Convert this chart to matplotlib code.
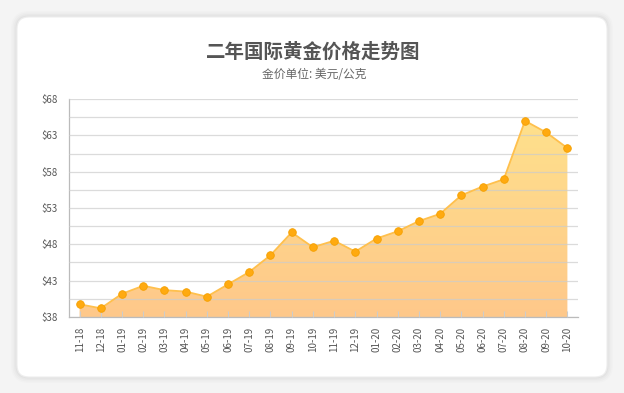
import matplotlib
matplotlib.use("Agg")
import matplotlib.pyplot as plt
import numpy as np
from matplotlib.patches import FancyBboxPatch
from matplotlib.transforms import IdentityTransform
from matplotlib.colors import LinearSegmentedColormap

plt.rcParams['font.family'] = ['Noto Sans CJK SC', 'DejaVu Sans']

months = ["11-18", "12-18", "01-19", "02-19", "03-19", "04-19", "05-19", "06-19",
          "07-19", "08-19", "09-19", "10-19", "11-19", "12-19", "01-20", "02-20",
          "03-20", "04-20", "05-20", "06-20", "07-20", "08-20", "09-20", "10-20"]
prices = [39.75, 39.2, 41.2, 42.3, 41.7, 41.5, 40.8, 42.5,
          44.2, 46.5, 49.65, 47.6, 48.5, 47.0, 48.8, 49.8,
          51.2, 52.2, 54.75, 55.95, 56.95, 65.0, 63.4, 61.25]
major_ticks = [38, 43, 48, 53, 58, 63, 68]
minor_ticks = [40.5, 45.5, 50.5, 55.5, 60.5, 65.5]

title = "二年国际黄金价格走势图"
subtitle = "金价单位: 美元/公克"

W, H = 624, 393
fig = plt.figure(figsize=(W / 100, H / 100), dpi=100)
fig.patch.set_facecolor("#f4f4f4")

# card with soft shadow (pixel coords)
for i, a in enumerate([0.025, 0.02, 0.015, 0.01]):
    grow = 1.5 * (i + 1)
    sh = FancyBboxPatch((17 - grow, 16 - grow), 590 + 2 * grow, 360 + 2 * grow,
                        boxstyle="round,pad=0,rounding_size=%d" % (12 + grow),
                        transform=IdentityTransform(), facecolor="black",
                        edgecolor="none", alpha=a, zorder=0)
    fig.patches.append(sh)
card = FancyBboxPatch((17, 16), 590, 360, boxstyle="round,pad=0,rounding_size=12",
                      transform=IdentityTransform(), facecolor="white",
                      edgecolor="#eeeeee", linewidth=0.8, zorder=0)
fig.patches.append(card)

fig.text(313 / W, 1 - 52 / H, title, ha="center", va="center",
         fontsize=14, fontweight="bold", color="#555555", zorder=2)
fig.text(314 / W, 1 - 75 / H, subtitle, ha="center", va="center",
         fontsize=8.5, color="#666666", zorder=2)

ax = fig.add_axes([69 / W, 1 - 317 / H, (578 - 69) / W, (317 - 99) / H])
ax.set_zorder(2)
ax.set_facecolor("none")
x = np.arange(len(months))

ax.set_xlim(-0.5, len(months) - 0.5)
ax.set_ylim(38, 68)

# gradient area
poly = ax.fill_between(x, prices, 38, color="none", linewidth=0)
cmap = LinearSegmentedColormap.from_list("gold", ["#fec88a", "#ffe38c"])
grad = np.linspace(0, 1, 256).reshape(-1, 1)
img = ax.imshow(grad, cmap=cmap, origin="lower", aspect="auto",
                extent=[-0.5, len(months) - 0.5, 38, 68], zorder=1)
img.set_clip_path(poly.get_paths()[0], transform=ax.transData)
ax.set_xlim(-0.5, len(months) - 0.5)
ax.set_ylim(38, 68)

ax.plot(x, prices, color="#ffc04d", linewidth=1.3, zorder=3)
ax.scatter(x, prices, s=30, color="#ffaa10", edgecolor="#f5a000",
           linewidth=0.6, zorder=4)

ax.set_yticks(major_ticks)
ax.set_yticks(minor_ticks, minor=True)
ax.set_yticklabels(["$%d" % v for v in major_ticks])
ax.set_xticks(x)
ax.set_xticklabels(months, rotation=90)
ax.grid(axis="y", which="both", color="#cccccc", alpha=0.7, linewidth=0.9, zorder=2)
ax.set_axisbelow(False)

ax.tick_params(axis="y", which="both", length=0, labelsize=7, labelcolor="#555555", pad=8)
ax.tick_params(axis="x", direction="in", length=4, color="#cccccc",
               labelsize=7, labelcolor="#555555", pad=7)
for side in ["top", "right"]:
    ax.spines[side].set_visible(False)
for side in ["left", "bottom"]:
    ax.spines[side].set_color("#bbbbbb")
    ax.spines[side].set_linewidth(0.9)

fig.savefig("out.png", dpi=100, facecolor=fig.get_facecolor())
